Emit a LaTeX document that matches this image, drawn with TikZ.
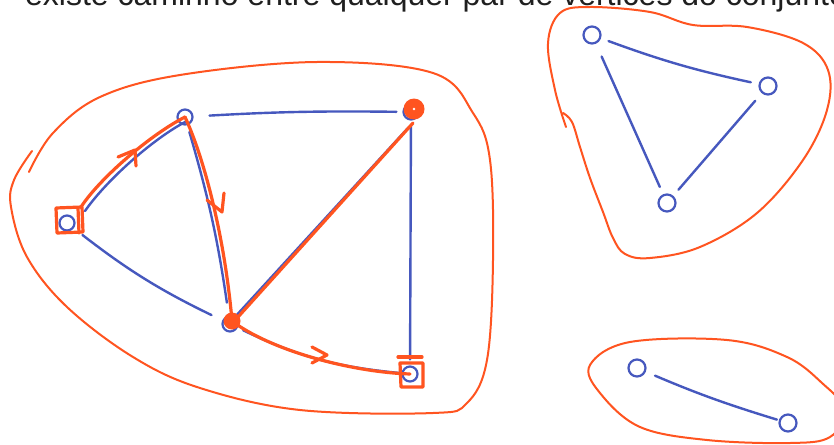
\documentclass[tikz,border=0pt]{standalone}
\usepackage{fontspec}
\setmainfont{Liberation Sans}
\definecolor{gblue}{RGB}{70,88,190}
\definecolor{gorange}{RGB}{255,84,32}
\begin{document}
\begin{tikzpicture}[x=1pt,y=-1pt,
  bl/.style={draw=gblue, line width=2.4pt, line cap=round},
  vtx/.style={circle, draw=gblue, line width=2.2pt, minimum size=16pt, inner sep=0pt},
  orfill/.style={circle, fill=gorange, inner sep=0pt},
  orl/.style={draw=gorange, line width=3.2pt, line cap=round, line join=round},
  blob/.style={draw=gorange, line width=2pt, line cap=round}]
\useasboundingbox (0,0) rectangle (834,444);
\clip (0,0) rectangle (834,444);
\fill[white] (0,0) rectangle (834,444);

% title (cut at the top, as in the reference)
\node[anchor=base west, font=\fontsize{32}{38}\selectfont, text=black!88, inner sep=0pt] (title) at (25,6) {existe caminho entre qualquer par de vértices do conjunto};

% ---------- left component ----------
\node[vtx, minimum size=15pt] (A) at (185,117) {};
\node[vtx, minimum size=15pt] (B0) at (411,112) {};
\node[vtx, minimum size=15pt] (C) at (67,223) {};
\node[vtx, minimum size=15pt] (D0) at (230,324) {};
\node[vtx, minimum size=15pt] (E) at (410,374) {};

% blue edges
\draw[bl, shorten <=16pt, shorten >=6pt] (A) to[bend left=2] (B0);
\draw[bl, shorten <=7pt, shorten >=13pt] (A) to[bend left=4] (D0);
\draw[bl, shorten <=11pt, shorten >=12pt] (C) to[bend right=6] (D0);
\draw[bl, shorten <=5pt, shorten >=6pt] (B0) to (E);
\draw[bl] ([shift={(-3,16)}]B0.center) -- ([shift={(4,-6)}]D0.center);
\draw[bl, shorten <=6pt, shorten >=2pt] (D0) to[bend right=10] (E);
\draw[bl] ([shift={(18,-12)}]C.center) .. controls (105,182) and (152,139) .. ([shift={(2,4)}]A.center);

% orange filled vertices
\node[orfill, minimum size=21pt] (B) at (414,109) {};
\node[orfill, minimum size=17pt] (D) at (232,321) {};
\fill[white] (B.center) circle (1.3);

% orange path
\draw[orl] ([shift={(14,-16)}]C.center) .. controls (100,178) and (150,135) .. (A.center);
\draw[orl] (A.center) .. controls (205,160) and (225,240) .. (D.center);
\draw[orl] (D.center) .. controls (270,350) and (350,372) .. (E.center);
\draw[orl] ([shift={(-1,14)}]B.center) -- ([shift={(6,-4)}]D.center);

% arrow ticks
\draw[orl] (118,157) -- (135,150) -- (136,166);
\draw[orl] (207,200) -- (222,212) -- (224,193);
\draw[orl] (312,347) -- (327,355) -- (312,363);

% squares
\draw[orl] ([shift={(-11,-15)}]C.center) -- ([shift={(15,-16)}]C.center) -- ([shift={(16,9)}]C.center) -- ([shift={(-10,10)}]C.center) -- cycle;
\draw[orl] ([shift={(11,-15)}]C.center) -- ([shift={(12,10)}]C.center);
\draw[orl] ([shift={(-10,-11)}]E.center) -- ([shift={(13,-11)}]E.center) -- ([shift={(13,13)}]E.center) -- ([shift={(-9,13)}]E.center) -- cycle;
\draw[orl] ([shift={(-12,-17)}]E.center) -- ([shift={(12,-17)}]E.center);

% blob
\draw[blob] plot[smooth, tension=0.6] coordinates {(29,172) (53,133) (100,97) (180,75) (317,62) (433,73) (473,113) (490,160) (493,260) (487,360) (467,403) (433,413) (300,410) (200,388) (133,357) (67,307) (27,257) (11,207) (14,180) (32,151)};

% ---------- top right component ----------
\node[vtx, minimum size=17pt] (F) at (592,35) {};
\node[vtx, minimum size=17pt] (G) at (768,86) {};
\node[vtx, minimum size=17pt] (H) at (667,203) {};
\draw[bl, shorten <=8pt, shorten >=8pt] (F) to[bend right=4] (G);
\draw[bl, shorten <=14pt, shorten >=8pt] (F) to (H);
\draw[bl, shorten <=10pt, shorten >=8pt] (G) to (H);
\draw[blob] plot[smooth, tension=0.6] coordinates {(566,127) (555,90) (548,43) (560,13) (590,7) (650,12) (693,25) (747,27) (803,43) (828,70) (827,110) (803,160) (757,213) (700,247) (650,258) (625,254) (613,238) (603,212) (590,178) (580,147) (572,122) (563,113)};

% ---------- bottom right component ----------
\node[vtx, minimum size=17pt] (I) at (637,368) {};
\node[vtx, minimum size=17pt] (J) at (788,423) {};
\draw[bl, shorten <=10pt, shorten >=2pt] (I) to[bend right=3] (J);
\draw[blob] plot[smooth cycle, tension=0.6] coordinates {(590,365) (630,342) (727,340) (787,357) (822,383) (845,410) (830,437) (790,443) (707,440) (640,427) (600,393)};
\end{tikzpicture}
\end{document}
